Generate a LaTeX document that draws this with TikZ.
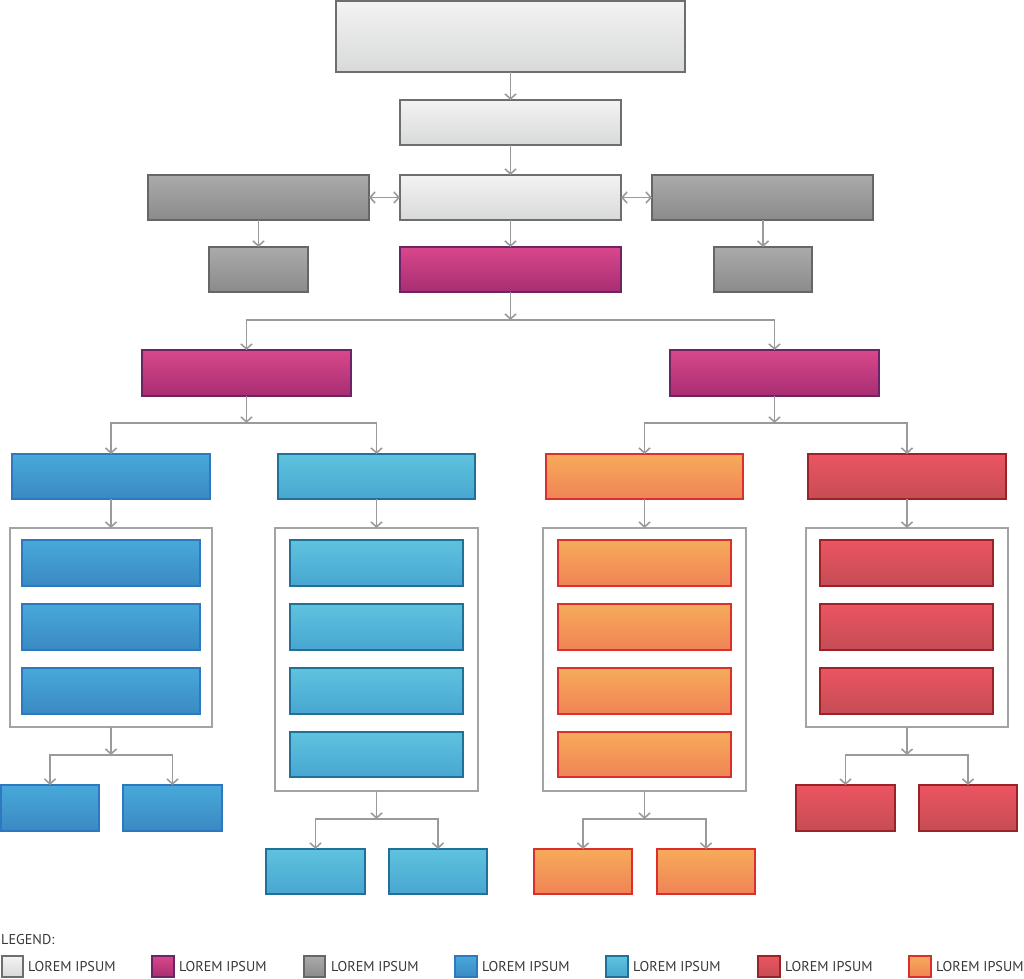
\documentclass[tikz,border=0pt]{standalone}
\usepackage{fontspec}
\setmainfont{PT Sans}
\usetikzlibrary{arrows.meta}
\definecolor{conn}{HTML}{9A9A9A}
\definecolor{contc}{HTML}{A3A3A3}
\definecolor{lightT}{HTML}{F3F3F3}\definecolor{lightB}{HTML}{D8D9DA}\definecolor{lightD}{HTML}{6E6E6E}
\definecolor{greyT}{HTML}{AAAAAA}\definecolor{greyB}{HTML}{8B8B8B}\definecolor{greyD}{HTML}{666666}
\definecolor{magT}{HTML}{D8488B}\definecolor{magB}{HTML}{A82D72}\definecolor{magD}{HTML}{6C2468}
\definecolor{bluT}{HTML}{48A9D9}\definecolor{bluB}{HTML}{3A89C3}\definecolor{bluD}{HTML}{2E78C0}
\definecolor{cyaT}{HTML}{5EC3DE}\definecolor{cyaB}{HTML}{48A6D0}\definecolor{cyaD}{HTML}{21709A}
\definecolor{oraT}{HTML}{F7AB5A}\definecolor{oraB}{HTML}{F08356}\definecolor{oraD}{HTML}{D9302F}
\definecolor{redT}{HTML}{EB5561}\definecolor{redB}{HTML}{C64C55}\definecolor{redD}{HTML}{9A2328}
\tikzset{
  box/.style={draw, line width=1.6pt, inner sep=0pt, outer sep=0pt},
  light/.style={box, draw=lightD, top color=lightT, bottom color=lightB},
  grey/.style={box, draw=greyD, top color=greyT, bottom color=greyB},
  mag/.style={box, draw=magD, top color=magT, bottom color=magB},
  blu/.style={box, draw=bluD, top color=bluT, bottom color=bluB},
  cya/.style={box, draw=cyaD, top color=cyaT, bottom color=cyaB},
  ora/.style={box, draw=oraD, top color=oraT, bottom color=oraB},
  rd/.style={box, draw=redD, top color=redT, bottom color=redB},
  cont/.style={draw=contc, line width=2pt, fill=white, inner sep=0pt, outer sep=0pt},
  link/.style={draw=conn, line width=1.6pt},
  arr/.style={link, -{Straight Barb[length=5pt,width=11pt]}},
  darr/.style={link, {Straight Barb[length=5pt,width=11pt]}-{Straight Barb[length=5pt,width=11pt]}},
  legtext/.style={anchor=base west, inner sep=0pt, font=\fontsize{14.2pt}{16pt}\selectfont, text=black!78}
}
% \mybox{name}{style}{x1}{y1}{x2}{y2}
\newcommand\mybox[6]{\node[#2, minimum width={#5pt-#3pt}, minimum height={#6pt-#4pt}] (#1) at ({(#3+#5)/2},{(#4+#6)/2}) {};}
\begin{document}
\begin{tikzpicture}[x=1pt,y=-1pt]
\useasboundingbox (0,0) rectangle (1024,978);
% top part
\mybox{t0}{light}{336}{1}{685}{72}
\mybox{t1}{light}{400}{100}{621}{145}
\mybox{c3}{light}{400}{175}{621}{220}
\mybox{gL}{grey}{148}{175}{369}{220}
\mybox{gR}{grey}{652}{175}{873}{220}
\mybox{gLs}{grey}{209}{247}{308}{292}
\mybox{gRs}{grey}{714}{247}{812}{292}
\mybox{m0}{mag}{400}{247}{621}{292}
\mybox{mL}{mag}{142}{350}{351}{396}
\mybox{mR}{mag}{670}{350}{879}{396}
\draw[arr] (t0) -- (t1);
\draw[arr] (t1) -- (c3);
\draw[darr] (gL) -- (c3);
\draw[darr] (c3) -- (gR);
\draw[arr] (gL.south -| gLs) -- (gLs);
\draw[arr] (gR.south -| gRs) -- (gRs);
\draw[arr] (c3) -- (m0);
\coordinate (j1) at (510.5,320);
\draw[arr] (m0) -- (j1);
\draw[arr] (j1) -| (mL);
\draw[arr] (j1) -| (mR);
% headers
\mybox{hB}{blu}{12}{454}{210}{499}
\mybox{hC}{cya}{278}{454}{475}{499}
\mybox{hO}{ora}{546}{454}{743}{499}
\mybox{hR}{rd}{808}{454}{1006}{499}
\coordinate (j2) at (246.5,423);
\coordinate (j3) at (774.5,423);
\draw[arr] (mL) -- (j2);
\draw[arr] (j2) -| (hB);
\draw[arr] (j2) -| (hC);
\draw[arr] (mR) -- (j3);
\draw[arr] (j3) -| (hO);
\draw[arr] (j3) -| (hR);
% containers
\mybox{kB}{cont}{10}{528}{212}{727}
\mybox{kC}{cont}{275}{528}{478}{791}
\mybox{kO}{cont}{543}{528}{746}{791}
\mybox{kR}{cont}{806}{528}{1008}{727}
\draw[arr] (hB) -- (kB);
\draw[arr] (hC) -- (kC);
\draw[arr] (hO) -- (kO);
\draw[arr] (hR) -- (kR);
% inner boxes
\mybox{b1}{blu}{22}{540}{200}{586}
\mybox{b2}{blu}{22}{604}{200}{650}
\mybox{b3}{blu}{22}{668}{200}{714}
\mybox{c1}{cya}{290}{540}{463}{586}
\mybox{c2}{cya}{290}{604}{463}{650}
\mybox{c3b}{cya}{290}{668}{463}{714}
\mybox{c4}{cya}{290}{732}{463}{777}
\mybox{o1}{ora}{558}{540}{731}{586}
\mybox{o2}{ora}{558}{604}{731}{650}
\mybox{o3}{ora}{558}{668}{731}{714}
\mybox{o4}{ora}{558}{732}{731}{777}
\mybox{r1}{rd}{820}{540}{993}{586}
\mybox{r2}{rd}{820}{604}{993}{650}
\mybox{r3}{rd}{820}{668}{993}{714}
% bottom boxes
\mybox{bL}{blu}{1}{785}{99}{831}
\mybox{bR}{blu}{123}{785}{222}{831}
\mybox{cL}{cya}{266}{849}{365}{894}
\mybox{cR}{cya}{389}{849}{487}{894}
\mybox{oL}{ora}{534}{849}{632}{894}
\mybox{oR}{ora}{657}{849}{755}{894}
\mybox{rL}{rd}{796}{785}{895}{831}
\mybox{rR}{rd}{919}{785}{1017}{831}
\coordinate (j4) at (111,755);
\coordinate (j5) at (376.5,819);
\coordinate (j6) at (644.5,819);
\coordinate (j7) at (907,755);
\draw[arr] (kB) -- (j4);
\draw[arr] (j4) -| (bL);
\draw[arr] (j4) -| (bR);
\draw[arr] (kC) -- (j5);
\draw[arr] (j5) -| (cL);
\draw[arr] (j5) -| (cR);
\draw[arr] (kO) -- (j6);
\draw[arr] (j6) -| (oL);
\draw[arr] (j6) -| (oR);
\draw[arr] (kR) -- (j7);
\draw[arr] (j7) -| (rL);
\draw[arr] (j7) -| (rR);
% legend
\node[legtext] (lg) at (1,944) {LEGEND:};
\mybox{s1}{light}{2}{956}{23}{977}
\mybox{s2}{mag}{152}{956}{174}{977}
\mybox{s3}{grey}{304}{956}{325}{977}
\mybox{s4}{blu}{455}{956}{477}{977}
\mybox{s5}{cya}{606}{956}{628}{977}
\mybox{s6}{rd}{758}{956}{780}{977}
\mybox{s7}{ora}{909}{956}{931}{977}
\node[legtext] (l1) at (28,971) {LOREM IPSUM};
\node[legtext] (l2) at (179,971) {LOREM IPSUM};
\node[legtext] (l3) at (331,971) {LOREM IPSUM};
\node[legtext] (l4) at (482,971) {LOREM IPSUM};
\node[legtext] (l5) at (633,971) {LOREM IPSUM};
\node[legtext] (l6) at (785,971) {LOREM IPSUM};
\node[legtext] (l7) at (936,971) {LOREM IPSUM};
\end{tikzpicture}
\end{document}
